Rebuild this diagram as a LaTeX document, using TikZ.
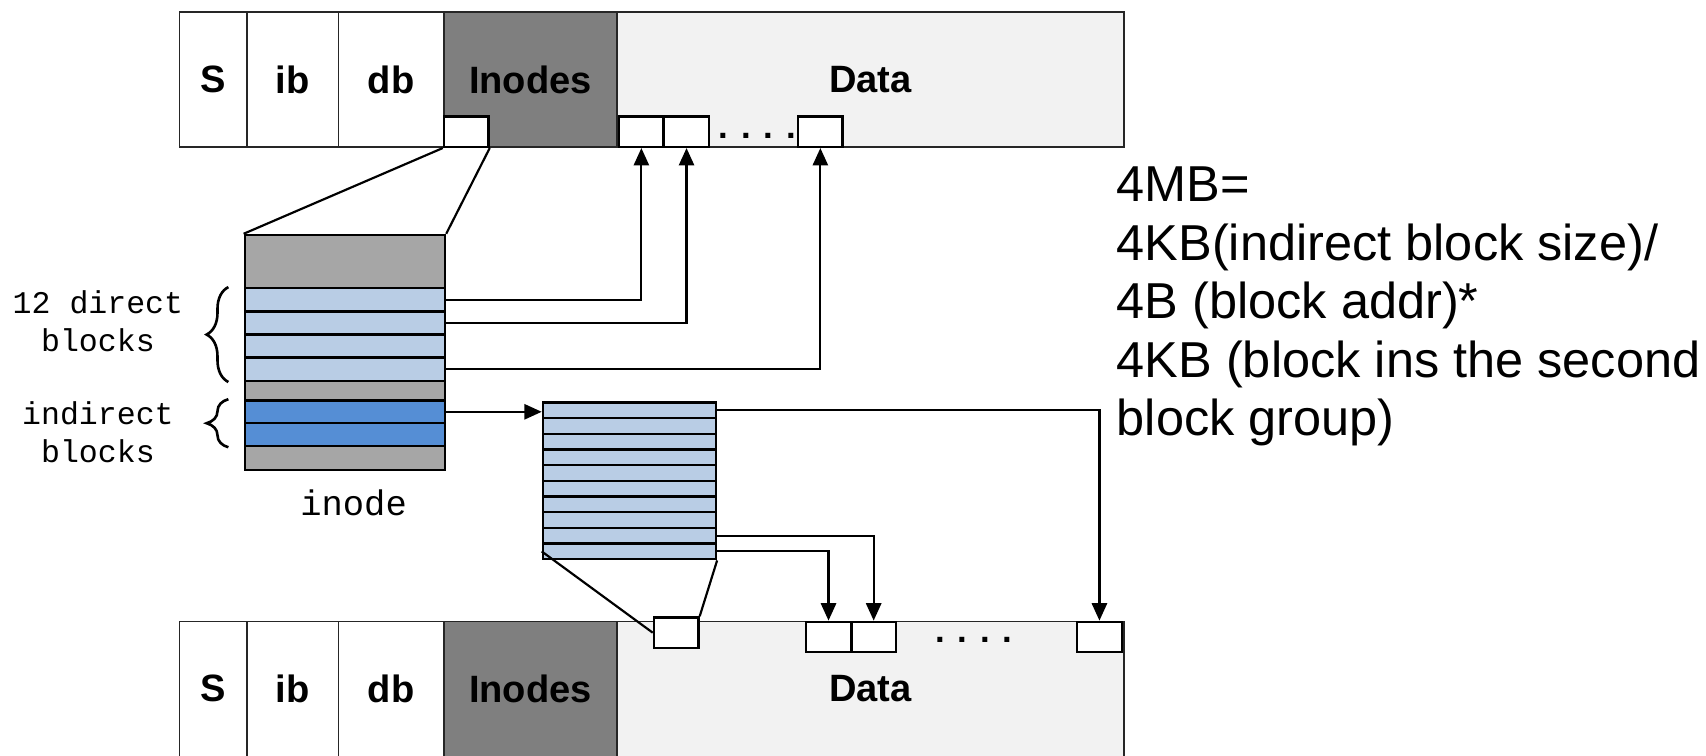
\documentclass[tikz,border=0pt]{standalone}
\usepackage{fontspec}
\setmainfont{Liberation Sans}
\setmonofont{Liberation Mono}
\usetikzlibrary{positioning,arrows.meta,decorations.pathreplacing}
\definecolor{inodegray}{HTML}{7F7F7F}
\definecolor{datagray}{HTML}{F2F2F2}
\definecolor{rowgray}{HTML}{A6A6A6}
\definecolor{rowblue}{HTML}{B9CDE5}
\definecolor{ptrblue}{HTML}{558ED5}

\begin{document}
\begin{tikzpicture}[x=0.5pt,y=-0.5pt,
  cell/.style={draw=black!85,line width=0.6pt,minimum height=62pt,inner sep=0pt,
    font=\fontsize{17.5}{20}\selectfont\bfseries},
  blk/.style={draw,line width=1.1pt,fill=white,minimum width=20.5pt,minimum height=14pt,inner sep=0pt},
  row/.style={draw,line width=1.1pt,minimum width=92pt,inner sep=0pt},
  irow/.style={draw,line width=1.1pt,fill=rowblue,minimum width=79.5pt,minimum height=7.2pt,inner sep=0pt},
  lbl/.style={font=\ttfamily\fontsize{14.5}{17.5}\selectfont,align=center},
  dots/.style={inner sep=0pt,font=\fontsize{16}{18}\selectfont\bfseries},
  link/.style={line width=1pt},
  >={Triangle[length=8pt,width=7pt]}]

\useasboundingbox (0,0) rectangle (1568,694);

% the two block groups
\foreach \g/\y in {t/73,b/633} {
  \node[cell,minimum width=31pt] (\g-s) at (196,\y) {S};
  \node[cell,minimum width=42pt] (\g-ib) at (269,\y) {ib};
  \node[cell,minimum width=48.5pt] (\g-db) at (359.5,\y) {db};
  \node[cell,fill=inodegray,minimum width=79.5pt] (\g-ino) at (487.5,\y) {Inodes};
  \node[cell,fill=datagray,minimum width=233pt] (\g-data) at (800,\y) {Data};
}

% blocks in the first group
\node[blk] (tino) at (428.5,121) {};
\node[blk] (td1) at (589.5,121) {};
\node[blk] (td2) at (631,121) {};
\node[blk] (td3) at (754,121) {};
\node[dots] (tdots) at (696,125) {. . . .};

% blocks in the second group
\node[blk] (bino) at (621.5,581.5) {};
\node[blk] (bd1) at (761.5,585.5) {};
\node[blk] (bd2) at (803,585.5) {};
\node[blk] (bd3) at (1010.5,585.5) {};
\node[dots] (bdots) at (895,588) {. . . .};

% inode
\foreach \n/\c/\h/\f in {itop/240.5/24.5/rowgray, r1/275.6/10.625/rowblue,
    r2/296.9/10.625/rowblue, r3/318.1/10.625/rowblue, r4/339.4/10.625/rowblue,
    igap/359/9/rowgray, ib1/378.5/10.5/ptrblue, ib2/399.5/10.5/ptrblue,
    ibot/421/11/rowgray}
  \node[row,fill=\f,minimum height=\h pt] (\n) at (317,\c) {};
\node[font=\ttfamily\fontsize{16.3}{19}\selectfont] (inodelbl) at (325,462) {inode};

% indirect block
\foreach \i in {1,...,10}
  \node[irow] (ind\i) at (578.5,{370+14.4*(\i-0.5)}) {};

% labels and braces
\node[lbl] (dlbl) at (90,295) {12 direct\\blocks};
\node[lbl] (ilbl) at (90,397) {indirect\\blocks};
\draw[decorate,decoration={brace,amplitude=10pt},line width=1.2pt]
  ([xshift=-7pt]r4.south west) -- ([xshift=-7pt]r1.north west);
\draw[decorate,decoration={brace,amplitude=10pt},line width=1.2pt]
  ([xshift=-7pt]ib2.south west) -- ([xshift=-7pt]ib1.north west);

% connectors
\draw[link] (tino.south west) -- (itop.north west);
\draw[link] (tino.south east) -- (itop.north east);
\draw[link,->] (r1.east) -| (td1.south);
\draw[link,->] (r2.east) -| (td2.south);
\draw[link,->] (r4.east) -| (td3.south);
\draw[link,->] (ib1.east) -- (ib1.east -| ind1.west);
\draw[link,->] (ind1.east) -| (bd3.north);
\draw[link,->] (ind9.east) -| (bd2.north);
\draw[link,->] (ind10.east) -| (bd1.north);
\draw[link] (ind10.west) -- (bino.west);
\draw[link] (ind10.south east) -- (bino.north east);

\node[font=\fontsize{23.2}{26.9}\selectfont,align=left,anchor=north west,inner sep=0pt]
  (calc) at (1026,153) {4MB=\\4KB(indirect block size)/\\4B (block addr)*\\
  4KB (block ins the second\\block group)};
\end{tikzpicture}
\end{document}
